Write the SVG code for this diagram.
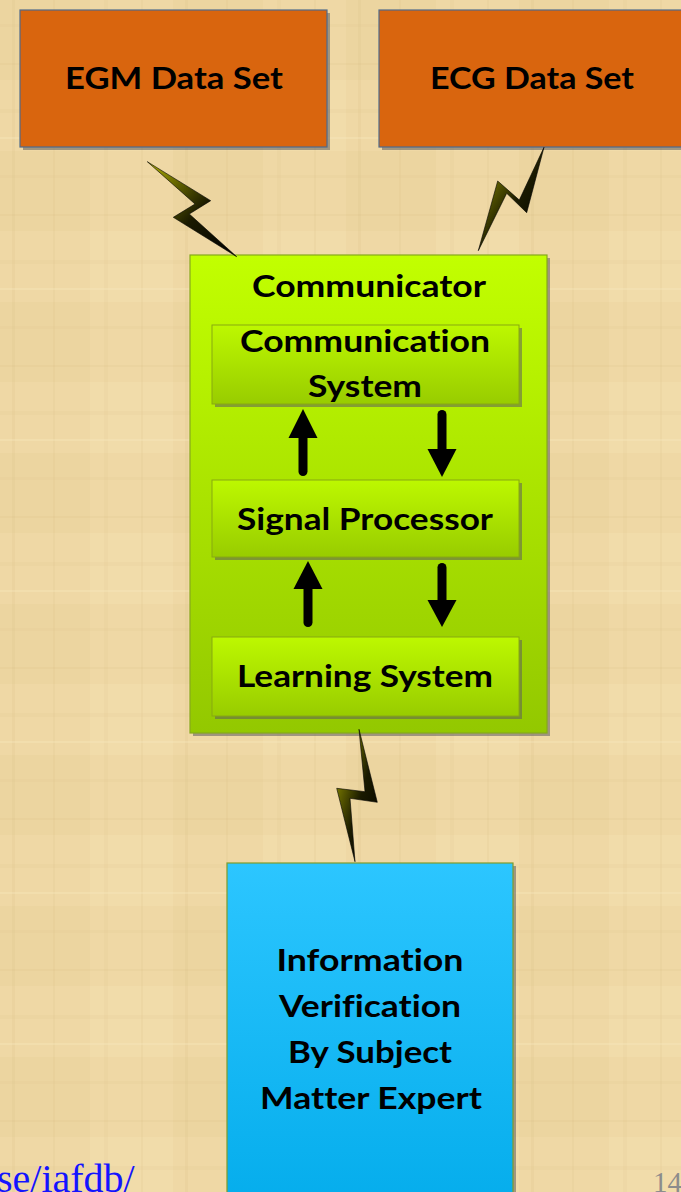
<svg xmlns="http://www.w3.org/2000/svg" width="681" height="1192" viewBox="0 0 681 1192">
<defs>
<style>
.lbl{font-family:Lato,"Open Sans","Liberation Sans",sans-serif;font-weight:bold;font-size:31px;fill:#000;text-anchor:middle;font-variant-ligatures:none;font-feature-settings:"liga" 0}
.shadow{fill:#5c5c5c;opacity:0.55}
.bolt{fill:url(#boltG);stroke:#000;stroke-width:0.6}
.shaft{stroke:#000;stroke-width:9;stroke-linecap:round;fill:none}
.head{fill:#000}
</style>
<pattern id="tex" width="173" height="151" patternUnits="userSpaceOnUse">
<rect width="173" height="151" fill="#efd8a5"/>
<rect x="0" y="0" width="90" height="80" fill="#ead19b" opacity="0.5"/>
<rect x="90" y="80" width="83" height="71" fill="#f3dfb0" opacity="0.5"/>
<rect x="12" y="0" width="3" height="151" fill="#d9bd84" opacity="0.18"/>
<rect x="53" y="0" width="2" height="151" fill="#d9bd84" opacity="0.14"/>
<rect x="104" y="0" width="4" height="151" fill="#dcc089" opacity="0.15"/>
<rect x="141" y="0" width="2" height="151" fill="#d6b87e" opacity="0.14"/>
<rect x="0" y="24" width="173" height="3" fill="#dcc089" opacity="0.15"/>
<rect x="0" y="63" width="173" height="2" fill="#d6b87e" opacity="0.14"/>
<rect x="0" y="109" width="173" height="4" fill="#dcc089" opacity="0.15"/>
<rect x="0" y="137" width="173" height="2" fill="#f7e6bd" opacity="0.35"/>
</pattern>
<linearGradient id="boltG" x1="0" y1="0" x2="1" y2="1">
<stop offset="0" stop-color="#b0b000"/>
<stop offset="0.55" stop-color="#1a1a00"/>
<stop offset="1" stop-color="#000"/>
</linearGradient>
<linearGradient id="outerG" x1="0" y1="0" x2="0" y2="1">
<stop offset="0" stop-color="#c2ff00"/>
<stop offset="1" stop-color="#93c800"/>
</linearGradient>
<linearGradient id="innerG" x1="0" y1="0" x2="0" y2="1">
<stop offset="0" stop-color="#bdf800"/>
<stop offset="1" stop-color="#98cc00"/>
</linearGradient>
<linearGradient id="blueG" x1="0" y1="0" x2="0" y2="1">
<stop offset="0" stop-color="#2cc6ff"/>
<stop offset="1" stop-color="#05adec"/>
</linearGradient>
</defs>

<rect width="681" height="1192" fill="url(#tex)"/>

<g id="egm">
<rect class="shadow" x="23" y="13" width="307" height="137"/>
<rect x="20" y="10" width="307" height="137" fill="#d9650e" stroke="#4f6a8c" stroke-width="1.2"/>
<text class="lbl" x="174" y="89" textLength="218" lengthAdjust="spacingAndGlyphs">EGM Data Set</text>
</g>

<g id="ecg">
<rect class="shadow" x="382" y="13" width="305" height="137"/>
<rect x="379" y="10" width="305" height="137" fill="#d9650e" stroke="#4f6a8c" stroke-width="1.2"/>
<text class="lbl" x="532" y="89" textLength="204" lengthAdjust="spacingAndGlyphs">ECG Data Set</text>
</g>

<g id="communicator">
<rect class="shadow" x="193" y="258" width="357" height="478" opacity="0.35"/>
<rect x="190" y="255" width="357" height="478" fill="url(#outerG)" stroke="#86a81c" stroke-width="1.2"/>
<text class="lbl" x="369" y="297" textLength="234" lengthAdjust="spacingAndGlyphs">Communicator</text>
</g>

<g id="comm-system">
<rect class="shadow" x="215" y="328" width="307" height="79" opacity="0.35"/>
<rect x="212" y="325" width="307" height="79" fill="url(#innerG)" stroke="#88aa10" stroke-width="1"/>
<text class="lbl" x="365" y="352" textLength="250" lengthAdjust="spacingAndGlyphs">Communication</text>
<text class="lbl" x="365" y="397" textLength="114" lengthAdjust="spacingAndGlyphs">System</text>
</g>

<g id="signal-processor">
<rect class="shadow" x="215" y="483" width="307" height="77" opacity="0.35"/>
<rect x="212" y="480" width="307" height="77" fill="url(#innerG)" stroke="#88aa10" stroke-width="1"/>
<text class="lbl" x="365" y="530" textLength="256" lengthAdjust="spacingAndGlyphs">Signal Processor</text>
</g>

<g id="learning-system">
<rect class="shadow" x="215" y="640" width="307" height="79" opacity="0.35"/>
<rect x="212" y="637" width="307" height="79" fill="url(#innerG)" stroke="#88aa10" stroke-width="1"/>
<text class="lbl" x="365" y="687" textLength="256" lengthAdjust="spacingAndGlyphs">Learning System</text>
</g>

<g id="expert">
<rect class="shadow" x="230" y="866" width="286" height="340" opacity="0.35"/>
<rect x="227" y="863" width="286" height="340" fill="url(#blueG)" stroke="#7f9c2c" stroke-width="1.2"/>
<text class="lbl" x="370" y="971" textLength="187" lengthAdjust="spacingAndGlyphs">Information</text>
<text class="lbl" x="370" y="1017" textLength="182" lengthAdjust="spacingAndGlyphs">Verification</text>
<text class="lbl" x="370" y="1063" textLength="164" lengthAdjust="spacingAndGlyphs">By Subject</text>
<text class="lbl" x="371" y="1109" textLength="222" lengthAdjust="spacingAndGlyphs">Matter Expert</text>
</g>

<g id="connectors">
<polygon class="bolt" points="147.3,161.7 210.7,200.7 189.3,214 236.7,256.7 173.3,217.3 195,204"/>
<polygon class="bolt" points="544,147.3 526.7,212.7 506.7,193.3 478.3,250.7 497.7,181 519.3,200"/>
<polygon class="bolt" points="359,729.3 377.3,802.3 350,798.3 355,861.7 336.7,788.3 365,791.7"/>
<line class="shaft" x1="303" y1="471.5" x2="303" y2="436"/>
<polygon class="head" points="288.5,438 317.5,438 303,409"/>
<line class="shaft" x1="442" y1="414.5" x2="442" y2="451"/>
<polygon class="head" points="427.5,449 456.5,449 442,477"/>
<line class="shaft" x1="308" y1="622.5" x2="308" y2="587"/>
<polygon class="head" points="293.5,589 322.5,589 308,561"/>
<line class="shaft" x1="442" y1="567.5" x2="442" y2="602"/>
<polygon class="head" points="427.5,600 456.5,600 442,627"/>
</g>

<text x="-3" y="1192" font-family="'Liberation Serif','Times New Roman',serif" font-size="40" fill="#1414ff">se/iafdb/</text>
<text x="653" y="1192" font-family="'Liberation Serif','Times New Roman',serif" font-size="29" fill="#8c8c8c">14</text>
</svg>
